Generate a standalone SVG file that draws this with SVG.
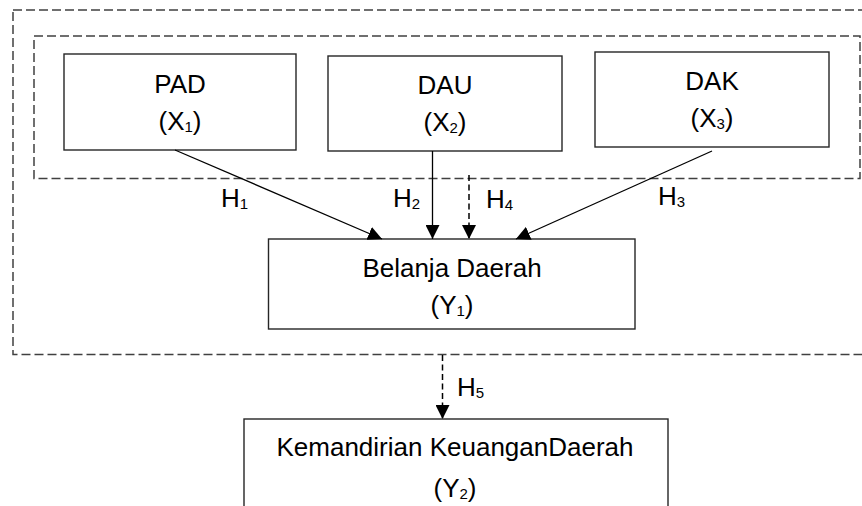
<svg xmlns="http://www.w3.org/2000/svg" width="862" height="506" viewBox="0 0 862 506">
<style>
  .frame { fill: none; stroke: #404040; stroke-width: 1.5; stroke-dasharray: 9 4; }
  .box { fill: #ffffff; stroke: #262626; stroke-width: 1.4; }
  .t { font-family: "Liberation Sans", Arial, sans-serif; font-size: 26px; fill: #000; text-anchor: middle; }
  .lbl { font-family: "Liberation Sans", Arial, sans-serif; font-size: 26px; fill: #000; }
  .sub { font-size: 15px; }
  .solid { stroke: #000; stroke-width: 1.3; fill: none; }
  .dash { stroke: #000; stroke-width: 1.5; fill: none; stroke-dasharray: 6 3.5; }
</style>
<defs>
  <marker id="arrow" markerUnits="userSpaceOnUse" markerWidth="14" markerHeight="14" viewBox="0 0 13 13" refX="13" refY="6.5" orient="auto">
    <path d="M0,0 L13,6.5 L0,13 z" fill="#000"/>
  </marker>
</defs>
<rect width="862" height="506" fill="#ffffff"/>
<g id="outer-frame">
  <rect class="frame" x="13" y="10" width="870" height="344.5"/>
</g>
<g id="inner-frame">
  <rect class="frame" x="34" y="36" width="826" height="142.5"/>
</g>
<g id="node-pad">
  <rect class="box" x="64" y="54" width="232" height="96"/>
  <text class="t" x="180" y="93">PAD</text>
  <text class="t" x="180" y="130">(X<tspan class="sub" dy="2">1</tspan><tspan dy="-2">)</tspan></text>
</g>
<g id="node-dau">
  <rect class="box" x="328" y="56" width="234" height="95"/>
  <text class="t" x="445" y="94">DAU</text>
  <text class="t" x="445" y="131">(X<tspan class="sub" dy="2">2</tspan><tspan dy="-2">)</tspan></text>
</g>
<g id="node-dak">
  <rect class="box" x="595" y="52" width="234" height="95"/>
  <text class="t" x="712" y="90">DAK</text>
  <text class="t" x="712" y="127">(X<tspan class="sub" dy="2">3</tspan><tspan dy="-2">)</tspan></text>
</g>
<g id="node-belanja">
  <rect class="box" x="268.5" y="239" width="366.5" height="90"/>
  <text class="t" x="452" y="277">Belanja Daerah</text>
  <text class="t" x="452" y="314">(Y<tspan class="sub" dy="2">1</tspan><tspan dy="-2">)</tspan></text>
</g>
<g id="node-kemandirian">
  <rect class="box" x="244" y="419" width="424" height="110"/>
  <text class="t" x="455" y="456">Kemandirian KeuanganDaerah</text>
  <text class="t" x="455" y="497">(Y<tspan class="sub" dy="2">2</tspan><tspan dy="-2">)</tspan></text>
</g>
<g id="connectors">
  <line class="solid" x1="175" y1="150" x2="382" y2="239" marker-end="url(#arrow)"/>
  <line class="solid" x1="432.5" y1="151" x2="432.5" y2="239" marker-end="url(#arrow)"/>
  <line class="dash" x1="469" y1="175" x2="469" y2="239" marker-end="url(#arrow)"/>
  <line class="solid" x1="712" y1="151" x2="516" y2="239" marker-end="url(#arrow)"/>
  <line class="dash" x1="442.5" y1="355" x2="442.5" y2="419" marker-end="url(#arrow)"/>
  <text class="lbl" x="221" y="207">H<tspan class="sub" dy="2">1</tspan></text>
  <text class="lbl" x="393" y="207">H<tspan class="sub" dy="2">2</tspan></text>
  <text class="lbl" x="658" y="205">H<tspan class="sub" dy="2">3</tspan></text>
  <text class="lbl" x="486" y="208">H<tspan class="sub" dy="2">4</tspan></text>
  <text class="lbl" x="457" y="396">H<tspan class="sub" dy="2">5</tspan></text>
</g>
</svg>
